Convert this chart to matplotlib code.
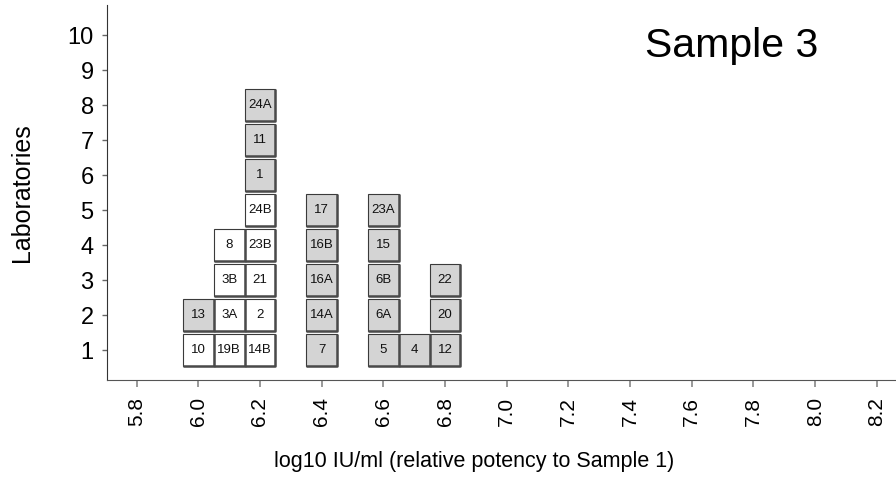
import matplotlib
matplotlib.use("Agg")
import matplotlib.pyplot as plt
from matplotlib.patches import Rectangle

plt.rcParams['font.family'] = ['Liberation Sans', 'DejaVu Sans']

# laboratory results binned by log10 potency, stacked bottom to top
bins = [6.0, 6.1, 6.2, 6.4, 6.6, 6.7, 6.8]
labs = [
    ["10", "13"],
    ["19B", "3A", "3B", "8"],
    ["14B", "2", "21", "23B", "24B", "1", "11", "24A"],
    ["7", "14A", "16A", "16B", "17"],
    ["5", "6A", "6B", "15", "23A"],
    ["4"],
    ["12", "20", "22"],
]
# grey boxes vs white boxes
shaded = [
    [False, True],
    [False, False, False, False],
    [False, False, False, False, False, True, True, True],
    [True, True, True, True, True],
    [True, True, True, True, True],
    [True],
    [True, True, True],
]
xticks = [5.8, 6.0, 6.2, 6.4, 6.6, 6.8, 7.0, 7.2, 7.4, 7.6, 7.8, 8.0, 8.2]
yticks = list(range(1, 11))

fig = plt.figure(figsize=(8.96, 4.82), dpi=100)
ax = fig.add_axes([0.1194, 0.2116, 0.8806, 0.778])

w = 0.1
h = 0.89
for x, names, grey in zip(bins, labs, shaded):
    for i, (name, g) in enumerate(zip(names, grey)):
        y = i + 1
        x0, y0 = x - w / 2, y - h / 2
        face = '#d4d4d4' if g else 'white'
        ax.add_patch(Rectangle((x0, y0), w, h, facecolor=face,
                               edgecolor='#3a3a3a', lw=0.8, zorder=2))
        # darker shadow on right and bottom edges
        ax.plot([x0, x0 + w, x0 + w], [y0, y0, y0 + h], color='#4a4a4a',
                lw=1.8, solid_capstyle='butt', zorder=3)
        ax.text(x, y, name, ha='center', va='center', fontsize=9.5,
                color='#111111', zorder=4)

ax.set_xlim(5.704, 8.262)
ax.set_ylim(0.143, 10.857)
ax.set_xticks(xticks)
ax.set_xticklabels(['%.1f' % v for v in xticks], rotation=90, fontsize=15)
ax.set_yticks(yticks)
ax.set_yticklabels([str(v) for v in yticks], fontsize=17)
ax.tick_params(axis='x', length=5, width=1.2, color='#888888', pad=7)
ax.tick_params(axis='y', length=3.6, width=1.0, color='#666666', pad=6)

ax.spines['top'].set_visible(False)
ax.spines['right'].set_visible(False)
ax.spines['left'].set_color('#333333')
ax.spines['bottom'].set_color('#555555')

fig.text(0.529, 0.043, 'log10 IU/ml (relative potency to Sample 1)',
         ha='center', va='center', fontsize=15.5)
fig.text(0.0246, 0.601, 'Laboratories', ha='center', va='center',
         rotation=90, fontsize=18)

fig.text(0.816, 0.8817, 'Sample 3', ha='center', va='baseline', fontsize=29.5)

fig.savefig('out.png', dpi=100)
